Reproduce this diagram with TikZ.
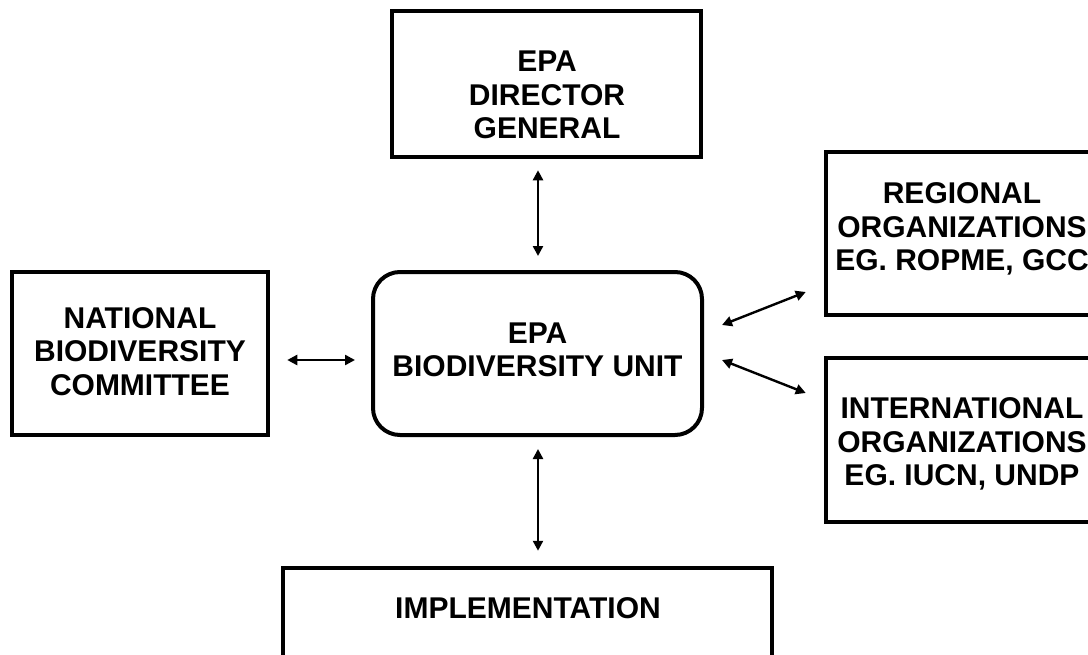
\documentclass[tikz,border=0pt]{standalone}
\usepackage{fontspec}
\setmainfont{Liberation Sans}
\usetikzlibrary{arrows.meta,calc}
\begin{document}
\begin{tikzpicture}[x=1pt,y=-1pt,
  box/.style={draw=black,line width=4.5pt,rectangle,inner sep=0pt,minimum width=#1},
  ubox/.style={draw=black,line width=4pt,rectangle,rounded corners=27pt,inner sep=0pt},
  lbl/.style={align=center,inner sep=0pt,font=\fontsize{30}{33.5}\selectfont\bfseries},
  link/.style={line width=2.4pt,{Triangle[length=10pt,width=10pt]}-{Triangle[length=10pt,width=10pt]}}]
\useasboundingbox (0,0) rectangle (1088,654);
% boxes
\node[box=309pt,minimum height=146pt] (top) at (546.5,84) {};
\node[ubox,minimum width=329pt,minimum height=163pt] (cbox) at (537.5,353.5) {};
\node[box=256pt,minimum height=163pt] (left) at (140,353.5) {};
\node[box=272pt,minimum height=163pt] (rt) at (962,233.5) {};
\node[box=272pt,minimum height=164pt] (rb) at (962,440) {};
\node[box=489pt,minimum height=132pt] (bot) at (527.5,634) {};
% texts
\node[lbl] (toptxt) at (547,95) {EPA\\DIRECTOR\\GENERAL};
\node[lbl] (ctxt) at (537.5,350) {EPA\\BIODIVERSITY UNIT};
\node[lbl] (ltxt) at (140,351.5) {NATIONAL\\BIODIVERSITY\\COMMITTEE};
\node[lbl] (rttxt) at (962,229) {REGIONAL\\ORGANIZATIONS\\EG. ROPME, GCC};
\node[lbl] (rbtxt) at (962,444) {INTERNATIONAL\\ORGANIZATIONS\\EG. IUCN, UNDP};
\node[lbl] (bottxt) at (528,608) {IMPLEMENTATION};
% connectors
\draw[link] ($(top.south)+(-8.5,11)$) -- ($(cbox.north)+(0.5,-14)$);
\draw[link] ($(cbox.south)+(0.5,12)$) -- ($(bot.north)+(10.5,-15)$);
\draw[link] ($(left.east)+(17,6.5)$) -- ($(cbox.west)+(-16,6.5)$);
\draw[link] ($(cbox.east)+(18,-28.5)$) -- ($(rt.west)+(-18,58.5)$);
\draw[link] ($(cbox.east)+(18,6.5)$) -- ($(rb.west)+(-18,-47)$);
\end{tikzpicture}
\end{document}
